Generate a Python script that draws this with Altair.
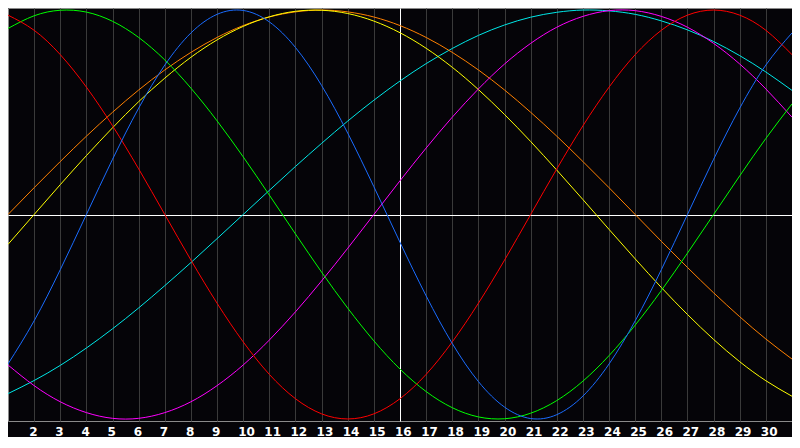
import pandas as pd
import altair as alt

days = list(range(1, 32))
tick_days = list(range(2, 31))

blue = [-.731, -.520, -.270, .000, .270, .520, .731, .888, .979, .998, .942, .817, .631, .398, .136, -.136,
        -.398, -.631, -.817, -.942, -.998, -.979, -.888, -.731, -.520, -.270, .000, .270, .520, .731, .888]
red = [.975, .901, .782, .623, .434, .223, .000, -.223, -.434, -.623, -.782, -.901, -.975, -1.000, -.975, -.901,
       -.782, -.623, -.434, -.223, .000, .223, .434, .623, .782, .901, .975, 1.000, .975, .901, .782]
green = [.910, .972, .999, .990, .945, .866, .756, .618, .458, .282, .095, -.095, -.282, -.458, -.618, -.756,
         -.866, -.945, -.990, -.999, -.972, -.910, -.815, -.690, -.541, -.372, -.189, .000, .189, .372, .541]
magenta = [-.736, -.837, -.916, -.969, -.997, -.997, -.969, -.916, -.837, -.736, -.614, -.476, -.325, -.165, .000, .165,
           .325, .476, .614, .736, .837, .916, .969, .997, .997, .969, .916, .837, .736, .614, .476]
yellow = [-.146, .000, .146, .288, .424, .552, .667, .769, .854, .920, .967, .994, .999, .983, .946, .889,
          .813, .720, .611, .489, .357, .217, .073, -.073, -.217, -.357, -.489, -.611, -.720, -.813, -.889]
orange = [.000, .131, .259, .383, .500, .609, .707, .793, .866, .924, .966, .991, 1.000, .991, .966, .924,
          .866, .793, .707, .609, .500, .383, .259, .131, .000, -.131, -.259, -.383, -.500, -.609, -.707]
cyan = [-.876, -.812, -.738, -.653, -.559, -.457, -.348, -.235, -.118, .000, .118, .235, .348, .457, .559, .653,
        .738, .812, .876, .927, .965, .989, 1.000, .996, .979, .947, .903, .846, .777, .697, .607]

series_names = ["cyan", "orange", "yellow", "magenta", "green", "red", "blue"]
series_values = [cyan, orange, yellow, magenta, green, red, blue]
series_colors = ["#00e8e8", "#ff8000", "#ffff00", "#ff00ff", "#00ff00", "#ff0000", "#1a6cff"]

rows = []
for name, vals in zip(series_names, series_values):
    for d, v in zip(days, vals):
        rows.append({"day": d, "value": v, "series": name})
df = pd.DataFrame(rows)

W, H = 784, 413

x_axis = alt.Axis(
    values=tick_days,
    grid=True,
    gridColor={"condition": {"test": "datum.value === 16", "value": "#ffffff"}, "value": "#3a3a3a"},
    gridWidth=1,
    domain=False,
    ticks=False,
    labelColor="#ffffff",
    labelFont="DejaVu Sans",
    labelFontSize=12,
    labelFontWeight="bold",
    labelAlign="left",
    labelOffset=-5.5,
    labelPadding=5,
    labelFlush=False,
    labelOverlap=False,
    title=None,
)
y_axis = alt.Axis(
    values=[0],
    grid=True,
    gridColor="#ffffff",
    gridWidth=1,
    domain=False,
    ticks=False,
    labels=False,
    title=None,
)

chart = alt.Chart(df).mark_line(strokeWidth=1, interpolate="natural", clip=True).encode(
    x=alt.X("day:Q", scale=alt.Scale(domain=[1, 31], nice=False, zero=False), axis=x_axis),
    y=alt.Y("value:Q", scale=alt.Scale(domain=[-1.01, 1.01], nice=False, zero=False), axis=y_axis),
    color=alt.Color("series:N", scale=alt.Scale(domain=series_names, range=series_colors), legend=None),
).properties(
    width=W, height=H, background="#050408", padding=0
).configure_view(
    fill="#050408", stroke="#8a8a8a", strokeWidth=1
)

chart.save("out.html", embed_options={"renderer": "svg", "actions": False})
